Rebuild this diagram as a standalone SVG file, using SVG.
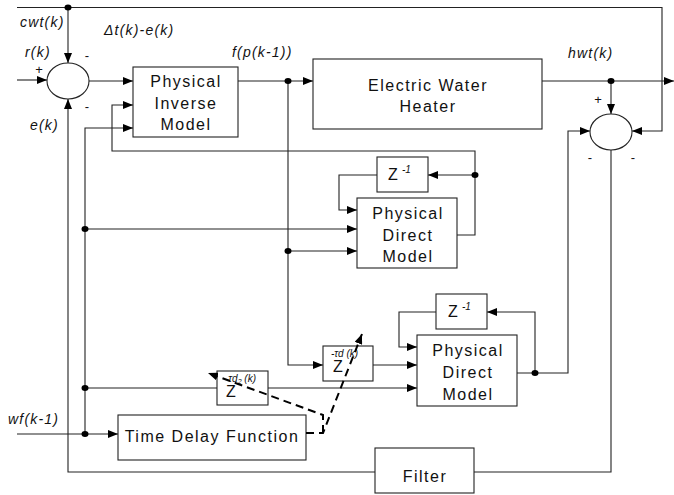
<svg xmlns="http://www.w3.org/2000/svg" width="674" height="495" viewBox="0 0 674 495">
<style>
.ln{fill:none;stroke:#222;stroke-width:1.1}
.ds{fill:none;stroke:#000;stroke-width:2;stroke-dasharray:8,5}
.bx{fill:#fff;stroke:#222;stroke-width:1.1}
.bt{font-family:"Liberation Sans",Arial,sans-serif;font-size:16px;letter-spacing:1.5px;fill:#111;text-anchor:middle}
.lb{font-family:"Liberation Sans",Arial,sans-serif;font-size:14px;font-style:italic;letter-spacing:1.2px;fill:#111}
.sg{font-family:"Liberation Sans",Arial,sans-serif;font-size:13px;fill:#111;text-anchor:middle}
.zt{font-family:"Liberation Sans",Arial,sans-serif;font-size:16px;fill:#111}
.sp{font-family:"Liberation Sans",Arial,sans-serif;font-size:10px;font-style:italic;fill:#111}
</style>
<defs>
<marker id="ar" markerUnits="userSpaceOnUse" markerWidth="11" markerHeight="8" refX="10" refY="4" orient="auto">
<path d="M0,0 L10,4 L0,8 z" fill="#000"/>
</marker>
</defs>
<g id="connectors">
<path class="ln" d="M17,7.5 H662 V131 H632" marker-end="url(#ar)"/>
<path class="ln" d="M68,7.5 V63" marker-end="url(#ar)"/>
<path class="ln" d="M17,80 H47" marker-end="url(#ar)"/>
<path class="ln" d="M89,81 H133" marker-end="url(#ar)"/>
<path class="ln" d="M238,81 H313" marker-end="url(#ar)"/>
<path class="ln" d="M542,81 H674" marker-end="url(#ar)"/>
<path class="ln" d="M611,81 V114" marker-end="url(#ar)"/>
<path class="ln" d="M288,81 V365 H323" marker-end="url(#ar)"/>
<path class="ln" d="M373,365 H417" marker-end="url(#ar)"/>
<path class="ln" d="M288,251 H357" marker-end="url(#ar)"/>
<path class="ln" d="M85,434 V128 H133" marker-end="url(#ar)"/>
<path class="ln" d="M85,229 H357" marker-end="url(#ar)"/>
<path class="ln" d="M85,388 H217"/>
<path class="ln" d="M268,388 H417" marker-end="url(#ar)"/>
<path class="ln" d="M17,434 H118" marker-end="url(#ar)"/>
<path class="ln" d="M457,235 H475 V151 H112 V105 H133" marker-end="url(#ar)"/>
<path class="ln" d="M475,175 H428" marker-end="url(#ar)"/>
<path class="ln" d="M377,175 H339 V210 H357" marker-end="url(#ar)"/>
<path class="ln" d="M517,373 H568 V131 H590" marker-end="url(#ar)"/>
<path class="ln" d="M535,373 V312 H487" marker-end="url(#ar)"/>
<path class="ln" d="M436,312 H399 V347 H417" marker-end="url(#ar)"/>
<path class="ln" d="M611,150 V472 H474"/>
<path class="ln" d="M375,472 H68 V99" marker-end="url(#ar)"/>
<g fill="#000">
<ellipse cx="68" cy="7.5" rx="3.5" ry="3"/>
<ellipse cx="288" cy="81" rx="3.5" ry="3"/>
<ellipse cx="611" cy="81" rx="3.5" ry="3"/>
<ellipse cx="475" cy="175" rx="3.5" ry="3"/>
<ellipse cx="85" cy="229" rx="3.5" ry="3"/>
<ellipse cx="288" cy="251" rx="3.5" ry="3"/>
<ellipse cx="85" cy="388" rx="3.5" ry="3"/>
<ellipse cx="85" cy="434" rx="3.5" ry="3"/>
<ellipse cx="535" cy="373" rx="3.5" ry="3"/>
</g>
</g>
<g id="sum1">
<ellipse class="bx" cx="68" cy="81" rx="21" ry="18"/>
</g>
<g id="sum2">
<ellipse class="bx" cx="611" cy="132" rx="21" ry="18"/>
</g>
<g id="pim">
<rect class="bx" x="133" y="67" width="105" height="70"/>
<text class="bt" x="186" y="86.5">Physical</text>
<text class="bt" x="186" y="109">Inverse</text>
<text class="bt" x="186" y="130">Model</text>
</g>
<g id="ewh">
<rect class="bx" x="313" y="59" width="229" height="70"/>
<text class="bt" x="428" y="91">Electric Water</text>
<text class="bt" x="428" y="112">Heater</text>
</g>
<g id="z1">
<rect class="bx" x="377" y="157" width="51" height="35"/>
<text class="zt" x="388" y="180">Z</text>
<text class="sp" x="402" y="173">-1</text>
</g>
<g id="pdm1">
<rect class="bx" x="357" y="198" width="100" height="70"/>
<text class="bt" x="408" y="219">Physical</text>
<text class="bt" x="408" y="240.5">Direct</text>
<text class="bt" x="408" y="262">Model</text>
</g>
<g id="z2">
<rect class="bx" x="436" y="294" width="51" height="35"/>
<text class="zt" x="448" y="317">Z</text>
<text class="sp" x="462" y="310">-1</text>
</g>
<g id="pdm2">
<rect class="bx" x="417" y="335" width="100" height="71"/>
<text class="bt" x="468" y="356">Physical</text>
<text class="bt" x="468" y="378">Direct</text>
<text class="bt" x="468" y="400">Model</text>
</g>
<g id="ztd">
<rect class="bx" x="323" y="346" width="50" height="35"/>
<text class="zt" x="333" y="372">Z</text>
<text class="sp" x="331" y="357">-τd (k)</text>
</g>
<g id="ztd2">
<rect class="bx" x="217" y="371" width="51" height="34"/>
<text class="zt" x="226" y="397">Z</text>
<text class="sp" x="225" y="382">-τd<tspan font-size="7" dy="2">2</tspan><tspan dy="-2"> (k)</tspan></text>
</g>
<g id="tdf">
<rect class="bx" x="118" y="415" width="188" height="45"/>
<text class="bt" x="212" y="442" font-size="15" letter-spacing="1">Time Delay Function</text>
</g>
<g id="filter">
<rect class="bx" x="375" y="448" width="99" height="45"/>
<text class="bt" x="425" y="482">Filter</text>
</g>
<g id="delay-control">
<path class="ds" d="M306,433 H323 L362,334" marker-end="url(#ar)"/>
<path class="ds" d="M323,433 V415 L208,373" marker-end="url(#ar)"/>
</g>
<g id="labels">
<text class="lb" x="20" y="27">cwt(k)</text>
<text class="lb" x="104" y="35">Δt(k)-e(k)</text>
<text class="lb" x="25" y="57">r(k)</text>
<text class="sg" x="39" y="74">+</text>
<text class="sg" x="87" y="60">-</text>
<text class="sg" x="87" y="111">-</text>
<text class="lb" x="30" y="130">e(k)</text>
<text class="lb" x="232" y="57">f(p(k-1))</text>
<text class="lb" x="568" y="58">hwt(k)</text>
<text class="sg" x="598" y="104">+</text>
<text class="sg" x="590" y="162">-</text>
<text class="sg" x="633" y="162">-</text>
<text class="lb" x="8" y="424">wf(k-1)</text>
</g>
</svg>
